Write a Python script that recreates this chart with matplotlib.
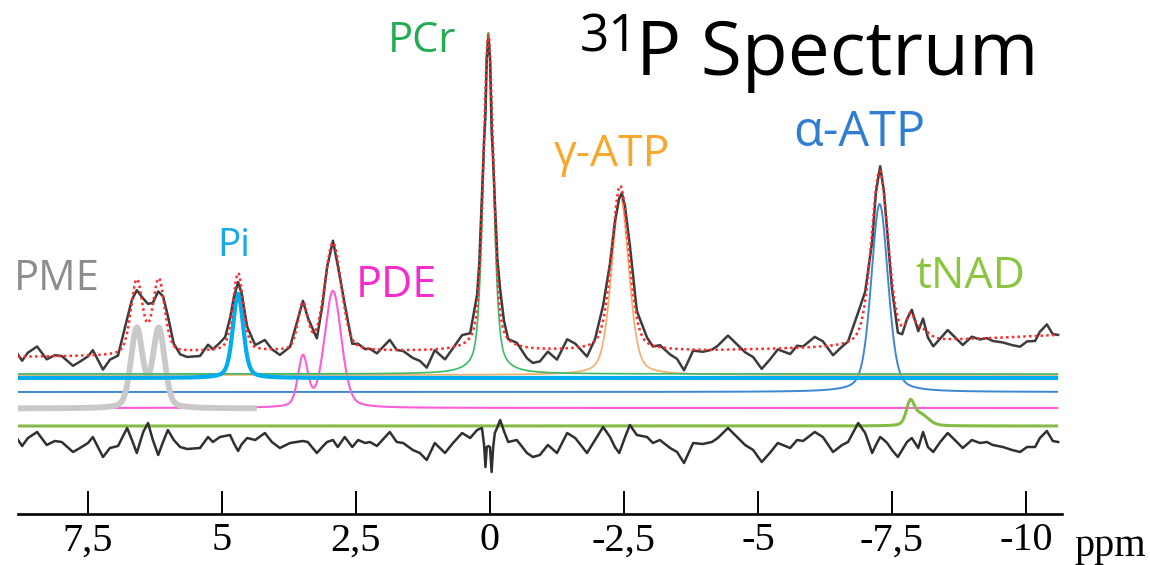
import numpy as np
import matplotlib
matplotlib.use("Agg")
import matplotlib.pyplot as plt

# ---------------------------------------------------------------
# Fitted 31P resonances (pseudo-Voigt lines): position in ppm,
# height (a.u.), full width at half maximum (ppm), Lorentzian fraction
# ---------------------------------------------------------------
peak_component = ["PME", "PME", "Pi", "PDE", "PDE", "PCr", "γ-ATP", "α-ATP", "tNAD", "tNAD"]
peak_ppm       = [6.59, 6.18, 4.70, 3.49, 2.93, 0.03, -2.43, -7.27, -7.84, -8.02]
peak_height    = [73, 73, 78, 46, 108, 316, 165, 174, 19, 11]
peak_fwhm      = [0.26, 0.26, 0.23, 0.22, 0.37, 0.22, 0.38, 0.37, 0.17, 0.36]
peak_eta       = [0.30, 0.30, 0.40, 0.30, 0.30, 0.45, 0.35, 0.35, 0.30, 0.30]

# spline baseline of the fit (ppm, a.u.)
baseline_ppm   = [8.80, 7.20, 5.50, -4.00, -6.50, -8.50, -10.65]
baseline_level = [-5, -4, 0, 1, 4, 11, 17]

# residual (measured - fit), sampled along the shift axis (ppm, a.u.)
residual_ppm = [
    8.84, 8.73, 8.62, 8.45, 8.27, 8.12, 7.99, 7.78, 7.65, 7.50, 7.41, 7.22, 7.09, 6.94,
    6.77, 6.68, 6.59, 6.47, 6.38, 6.29, 6.19, 6.10, 6.01, 5.90, 5.78, 5.65, 5.41, 5.26,
    5.17, 5.04, 4.94, 4.85, 4.78, 4.70, 4.63, 4.53, 4.38, 4.20, 4.07, 3.92, 3.73, 3.49,
    3.40, 3.23, 3.13, 3.04, 2.93, 2.84, 2.71, 2.57, 2.46, 2.33, 2.24, 2.11, 1.87, 1.74,
    1.62, 1.44, 1.31, 1.18, 1.03, 0.84, 0.69, 0.52, 0.37, 0.24, 0.20, 0.15, 0.11, 0.085,
    0.06, 0.03, 0.00, -0.03, -0.06, -0.09, -0.14, -0.19, -0.26, -0.34, -0.50, -0.69,
    -0.80, -0.93, -1.08, -1.25, -1.44, -1.59, -1.81, -1.96, -2.11, -2.24, -2.33, -2.41,
    -2.46, -2.52, -2.61, -2.74, -2.93, -3.04, -3.17, -3.36, -3.49, -3.62, -3.79, -3.97,
    -4.14, -4.25, -4.44, -4.61, -4.76, -4.91, -5.07, -5.22, -5.37, -5.60, -5.73, -5.84,
    -6.06, -6.21, -6.40, -6.57, -6.68, -6.87, -7.00, -7.13, -7.20, -7.28, -7.35, -7.41,
    -7.50, -7.61, -7.69, -7.78, -7.87, -7.99, -8.08, -8.17, -8.27, -8.40, -8.54, -8.71,
    -8.82, -8.99, -9.14, -9.27, -9.38, -9.57, -9.74, -9.89, -10.02, -10.17, -10.26,
    -10.39, -10.50, -10.60,
]
residual_val = [
    5, -4, 4, 10, -3, 1, 0, -10, -6, -1, 5, -15, -6, -4,
    14, 2, -11, 10, 19, 2, -13, 0, 12, 2, -5, -7, -6, 5,
    0, 5, 6, 7, -1, -9, -2, 4, 2, 9, 0, -6, -1, 1,
    0, -11, -5, 0, 2, -5, 5, -5, 2, -1, 0, -4, 10, 0,
    -1, -8, -11, -18, -1, -11, -1, 9, 4, 12, 13, 14, -3, -25,
    -5, -4, -5, -30, -5, 9, 15, 22, 11, 0, 2, -11,
    -15, -13, -3, -11, 9, 4, -11, 2, 15, 5, -5, -11,
    -4, 5, 17, 7, 5, -1, 2, -6, -10, -21, -1, -2,
    0, 4, 14, 5, -3, -8, -20, -11, -1, -6, 2, 1,
    10, 5, -10, -3, 0, 19, 9, -11, -3, 5, 2, -1,
    -8, -15, -8, 0, 4, -6, 10, -5, -10, 0, 9, 0,
    -6, 2, -1, 0, -3, -5, -8, -10, -5, -5, 4,
    11, 1, 0,
]

# component labels and colours
component_names  = ["PME", "Pi", "PDE", "PCr", "γ-ATP", "α-ATP", "tNAD"]
label_colors     = ["#8c8c8c", "#18a9e6", "#f22ccd", "#22ad52", "#f8a72c", "#2f7ed2", "#8cc540"]
line_colors      = ["#c9c9c9", "#00aeef", "#ff5cd8", "#3fb866", "#f6ac68", "#3d87d5", "#86bb45"]

TICKS = [7.5, 5, 2.5, 0, -2.5, -5, -7.5, -10]
TICK_LABELS = ["7,5", "5", "2,5", "0", "-2,5", "-5", "-7,5", "-10"]


def pseudo_voigt(x, center, height, fwhm, eta):
    u = (x - center) / (fwhm / 2.0)
    return height * (eta / (1.0 + u ** 2) + (1.0 - eta) * np.exp(-np.log(2.0) * u ** 2))


def component_signal(x, name):
    y = np.zeros_like(x, dtype=float)
    for comp, c, h, w, e in zip(peak_component, peak_ppm, peak_height, peak_fwhm, peak_eta):
        if comp == name:
            y += pseudo_voigt(x, c, h, w, e)
    return y


def fit_signal(x):
    y = np.interp(-x, -np.asarray(baseline_ppm), baseline_level)
    for name in component_names:
        y += component_signal(x, name)
    return y


# ---------------------------------------------------------------
W, H = 1150, 565
fig = plt.figure(figsize=(W / 100, H / 100), dpi=100)
fig.patch.set_facecolor("white")

AX_LEFT, AX_RIGHT, AX_BOTTOM = 18, 1062, 514
ax = fig.add_axes([AX_LEFT / W, (H - AX_BOTTOM) / H, (AX_RIGHT - AX_LEFT) / W, AX_BOTTOM / H])
ax.set_xlim(8.806, -10.672)
ax.set_ylim(0, AX_BOTTOM)
ax.set_facecolor("none")

# vertical placement of the stacked traces
OFF_SPECTRUM = 162
OFF_COMPONENT = {"PCr": 140, "γ-ATP": 139, "Pi": 136, "α-ATP": 122,
                 "PDE": 106, "PME": 105.5, "tNAD": 88}
OFF_RESIDUAL = 72
COMPONENT_GAIN = 1.08

span = {"PME": (8.81, 4.35), "PDE": (7.09, -10.60)}
width = {"PME": 4.2, "Pi": 3.0, "PDE": 1.5, "PCr": 1.2, "γ-ATP": 1.2, "α-ATP": 1.4, "tNAD": 2.2}
order = ["α-ATP", "PDE", "PME", "tNAD", "γ-ATP", "PCr", "Pi"]

for name in order:
    lo, hi = span.get(name, (8.81, -10.60))
    x = np.linspace(lo, hi, 4000)
    idx = component_names.index(name)
    ax.plot(x, OFF_COMPONENT[name] + COMPONENT_GAIN * component_signal(x, name),
            color=line_colors[idx], lw=width[name], solid_capstyle="butt", zorder=2)

# measured spectrum = fit + residual
rp = np.asarray(residual_ppm)
rv = np.asarray(residual_val, dtype=float)
ax.plot(rp, OFF_SPECTRUM + fit_signal(rp) + rv, color="#3c3c3c", lw=1.8,
        solid_joinstyle="round", zorder=3)

# fitted spectrum
xf = np.linspace(8.81, -10.60, 6000)
ax.plot(xf, OFF_SPECTRUM + fit_signal(xf), color="#ff2a2a", lw=1.8,
        linestyle=(0, (1.0, 1.3)), zorder=4)

# residual
ax.plot(rp, OFF_RESIDUAL + rv, color="#303030", lw=1.8, solid_joinstyle="round", zorder=3)

# axis
for side in ("left", "right", "top"):
    ax.spines[side].set_visible(False)
ax.spines["bottom"].set_linewidth(1.9)
ax.set_yticks([])
ax.set_xticks(TICKS)
ax.set_xticklabels(TICK_LABELS, fontfamily="Liberation Serif", fontsize=29)
ax.tick_params(axis="x", direction="in", length=16.5, width=1.4, pad=6)


def px(x, y):
    return x / W, 1 - y / H


fig.text(*px(1074, 556), "ppm", fontfamily="Liberation Serif", fontsize=29, va="baseline")

# title with superscript mass number
fig.text(*px(580, 52), "31", fontfamily="Open Sans", fontsize=37, va="baseline")
fig.text(*px(636, 75), "P Spectrum", fontfamily="Open Sans", fontsize=54, va="baseline")

# component labels
label_pos = {"PCr": (388, 52, 30), "γ-ATP": (554, 166, 32), "α-ATP": (793, 146, 35),
             "Pi": (217, 256, 28), "PME": (14, 290, 30), "PDE": (356, 297, 31),
             "tNAD": (915, 288, 32)}
for name in component_names:
    x, y, fs = label_pos[name]
    fig.text(*px(x, y), name, fontfamily="Open Sans", fontsize=fs, va="baseline",
             color=label_colors[component_names.index(name)])

fig.savefig("out.png", dpi=100, facecolor="white")
